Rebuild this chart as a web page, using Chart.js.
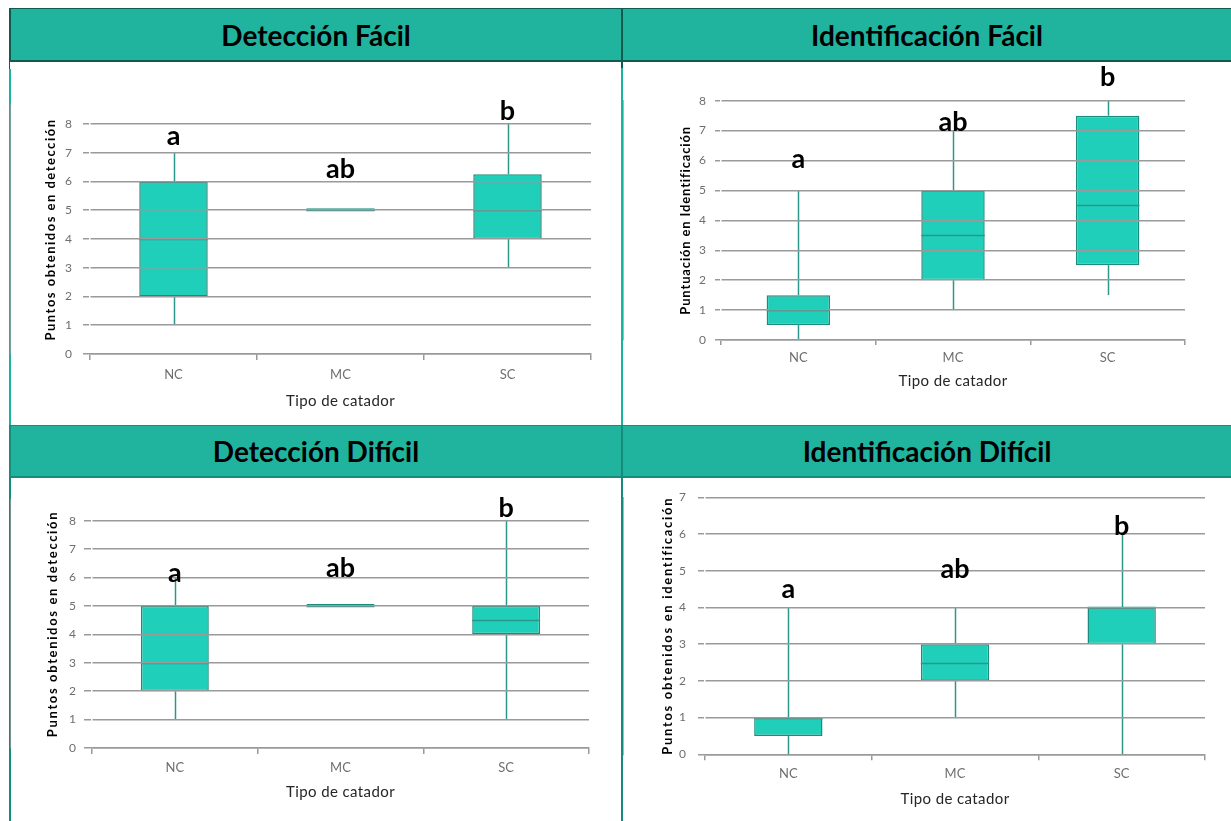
<!DOCTYPE html>
<html>
<head>
<meta charset="utf-8">
<title>Puntuaciones por tipo de catador</title>
<script src="https://cdn.jsdelivr.net/npm/chart.js@4.4.0/dist/chart.umd.min.js"></script>
<style>
  html, body { margin: 0; padding: 0; background: #ffffff; }
  body { width: 1231px; height: 821px; position: relative; overflow: hidden; font-family: Lato, "Open Sans", sans-serif; }
  .hdr { position: absolute; box-sizing: border-box; background: #20b49f; color: #000;
         display: flex; align-items: center; justify-content: center;
         font: 700 28px Lato, "Open Sans", sans-serif; }
  .rule { position: absolute; }
  canvas { position: absolute; }
</style>
</head>
<body>
  <!-- header bands -->
  <div class="hdr" style="left:9px;top:8px;width:612px;height:54px;border-top:1px solid #0f5b4e;border-bottom:2px solid #0f5b4e;border-left:2px solid #0f5b4e;">Detección Fácil</div>
  <div class="hdr" style="left:623px;top:8px;width:608px;height:54px;border-top:1px solid #0f5b4e;border-bottom:2px solid #0f5b4e;">Identificación Fácil</div>
  <div class="hdr" style="left:9px;top:425px;width:612px;height:53px;border-top:1px solid #168c7b;border-bottom:2px solid #168c7b;border-left:2px solid #168c7b;">Detección Difícil</div>
  <div class="hdr" style="left:623px;top:425px;width:608px;height:53px;border-top:1px solid #168c7b;border-bottom:2px solid #168c7b;">Identificación Difícil</div>

  <!-- panel frame lines -->
  <div class="rule" style="left:621px;top:8px;width:2px;height:60px;background:#0f5b4e;"></div>
  <div class="rule" style="left:621px;top:68px;width:2px;height:357px;background:#1ab39d;"></div>
  <div class="rule" style="left:621px;top:425px;width:2px;height:396px;background:#158b7a;"></div>
  <div class="rule" style="left:9px;top:62px;width:1px;height:7px;background:#0f5b4e;"></div>
  <div class="rule" style="left:9px;top:69px;width:2px;height:356px;background:#1ab39d;"></div>
  <div class="rule" style="left:9px;top:478px;width:2px;height:343px;background:#158b7a;"></div>

  <canvas id="detFacil" width="611" height="363" style="left:10px;top:62px;"></canvas>
  <canvas id="idFacil" width="608" height="363" style="left:623px;top:62px;"></canvas>
  <canvas id="detDificil" width="611" height="343" style="left:10px;top:478px;"></canvas>
  <canvas id="idDificil" width="608" height="343" style="left:623px;top:478px;"></canvas>

<script>
// ---- data ----------------------------------------------------------------
const categories = ['NC', 'MC', 'SC'];

// Detección Fácil
const detFacilMin    = [1, 5, 3];
const detFacilQ1     = [2, 5, 4];
const detFacilMedian = [4, 5, 5];
const detFacilQ3     = [6, 5.07, 6.25];
const detFacilMax    = [7, 5.07, 8];
const detFacilGroups = ['a', 'ab', 'b'];

// Identificación Fácil
const idFacilMin    = [0, 1, 1.5];
const idFacilQ1     = [0.5, 2, 2.5];
const idFacilMedian = [1, 3.5, 4.5];
const idFacilQ3     = [1.5, 5, 7.5];
const idFacilMax    = [5, 7, 8];
const idFacilGroups = ['a', 'ab', 'b'];

// Detección Difícil
const detDificilMin    = [1, 5, 1];
const detDificilQ1     = [2, 5, 4];
const detDificilMedian = [3, 5, 4.5];
const detDificilQ3     = [5, 5.07, 5];
const detDificilMax    = [6, 5.07, 8];
const detDificilGroups = ['a', 'ab', 'b'];

// Identificación Difícil
const idDificilMin    = [0, 1, 0];
const idDificilQ1     = [0.5, 2, 3];
const idDificilMedian = [1, 2.5, 4];
const idDificilQ3     = [1, 3, 4];
const idDificilMax    = [4, 4, 6];
const idDificilGroups = ['a', 'ab', 'b'];

const xAxisTitle = 'Tipo de catador';

// ---- styling -------------------------------------------------------------
const BOX_FILL = '#1fcfb9';
const BOX_EDGE = '#1b8c7d';
const WHISKER = '#2a978a';
const GRID = '#9a9a9a';
const TICK_TEXT = '#6e6e6e';
const FONT = 'Lato, "Open Sans", sans-serif';

// whiskers, medians and group letters, drawn with the chart's own scales
function boxDecorations(stats) {
  return {
    id: 'boxDecorations',
    afterLayout(chart) {
      // spaced-out lettering for the axis titles
      [['y', stats.yTitleSpacing], ['x', stats.xTitleSpacing]].forEach(([key, sp]) => {
        const s = chart.scales[key];
        if (!s || s._spacedTitle) return;
        const orig = s.drawTitle;
        s.drawTitle = function () {
          const c = this.ctx;
          c.save();
          c.letterSpacing = sp + 'px';
          orig.call(this);
          c.restore();
        };
        s._spacedTitle = true;
      });
    },
    afterDatasetsDraw(chart) {
      const { ctx, scales: { y } } = chart;
      const bars = chart.getDatasetMeta(0).data;
      ctx.save();
      ctx.strokeStyle = WHISKER;
      ctx.lineWidth = 1.5;
      bars.forEach((bar, i) => {
        const x = Math.round(bar.x) + 0.5;
        const half = bar.width / 2;
        const seg = (x1, y1, x2, y2) => { ctx.beginPath(); ctx.moveTo(x1, y1); ctx.lineTo(x2, y2); ctx.stroke(); };
        if (stats.max[i] > stats.q3[i]) seg(x, y.getPixelForValue(stats.q3[i]), x, y.getPixelForValue(stats.max[i]));
        if (stats.min[i] < stats.q1[i]) seg(x, y.getPixelForValue(stats.q1[i]), x, y.getPixelForValue(stats.min[i]));
        const ym = Math.round(y.getPixelForValue(stats.median[i])) + 0.5;
        seg(bar.x - half, ym, bar.x + half, ym);
      });
      ctx.restore();
    },
    afterDraw(chart) {
      const { ctx, scales: { y } } = chart;
      const bars = chart.getDatasetMeta(0).data;
      ctx.save();
      ctx.fillStyle = '#000';
      ctx.font = '700 27px ' + FONT;
      ctx.textAlign = 'center';
      ctx.textBaseline = 'alphabetic';
      bars.forEach((bar, i) => {
        ctx.fillText(stats.groups[i], bar.x, y.getPixelForValue(stats.letterAt[i]));
      });
      ctx.restore();
    }
  };
}

function buildPanel(p) {
  const canvas = document.getElementById(p.id);
  const W = canvas.width, H = canvas.height;
  const yTitleFont = { family: FONT, size: 13, weight: '700' };
  const xTitleFont = { family: FONT, size: 15 };
  const xTickFont = { family: FONT, size: 13 };
  const yTickFont = { family: FONT, size: 12 };
  const xAxisHeight = H - p.area.bottom;

  return new Chart(canvas, {
    type: 'bar',
    data: {
      labels: categories,
      datasets: [{
        data: categories.map((_, i) => [p.q1[i], p.q3[i]]),
        backgroundColor: BOX_FILL,
        borderColor: BOX_EDGE,
        borderWidth: 1.5,
        borderSkipped: false,
        barPercentage: 0.41,
        categoryPercentage: 1
      }]
    },
    options: {
      responsive: false,
      devicePixelRatio: 1,
      animation: false,
      events: [],
      layout: { padding: { left: 0, top: p.area.top, right: W - p.area.right, bottom: 0 } },
      plugins: { legend: { display: false }, tooltip: { enabled: false }, title: { display: false } },
      scales: {
        x: {
          offset: true,
          grid: { display: true, drawOnChartArea: false, drawTicks: true, tickLength: p.xTickLen, color: GRID, lineWidth: 1.5, offset: true },
          border: { display: true, color: GRID, width: 1.5 },
          ticks: { color: TICK_TEXT, font: xTickFont, padding: p.xLabelY - p.area.bottom - p.xTickLen - 7.8 },
          title: { display: true, text: xAxisTitle, color: '#262626', font: xTitleFont,
                   padding: { top: 0, bottom: (H - p.xTitleY) - 9 } },
          afterFit(scale) { scale.height = xAxisHeight; }
        },
        y: {
          min: 0,
          max: p.yMax,
          grid: { color: GRID, lineWidth: 1.5, tickLength: p.yTickLen, z: 1 },
          border: { display: true, color: GRID, width: 1.5 },
          ticks: { stepSize: 1, includeBounds: false, color: TICK_TEXT, font: yTickFont, padding: p.yTickPad },
          afterBuildTicks(scale) { scale.ticks = scale.ticks.filter(t => Number.isInteger(t.value)); },
          title: { display: true, text: p.yTitle, color: '#000', font: yTitleFont,
                   padding: { top: p.yTitleX - 7.8, bottom: 0 } },
          afterFit(scale) { scale.width = p.area.left; }
        }
      }
    },
    plugins: [boxDecorations(p)]
  });
}

buildPanel({
  id: 'detFacil', yTitle: 'Puntos obtenidos en detección', yMax: 8.66,
  min: detFacilMin, q1: detFacilQ1, median: detFacilMedian, q3: detFacilQ3, max: detFacilMax,
  groups: detFacilGroups, letterAt: [7.27, 6.12, 8.14],
  area: { left: 80, right: 581, top: 43, bottom: 292 },
  yTitleX: 41, yTitleSpacing: 1.5, xTitleSpacing: 0.4,
  yTickLen: 7, yTickPad: 11, xTickLen: 6, xLabelY: 313, xTitleY: 339
});

buildPanel({
  id: 'idFacil', yTitle: 'Puntuación en Identificación', yMax: 8,
  min: idFacilMin, q1: idFacilQ1, median: idFacilMedian, q3: idFacilQ3, max: idFacilMax,
  groups: idFacilGroups, letterAt: [5.75, 7.0, 8.5],
  area: { left: 98, right: 562, top: 38.7, bottom: 278 },
  yTitleX: 63, yTitleSpacing: 0.85, xTitleSpacing: 0.4,
  yTickLen: 6, yTickPad: 9, xTickLen: 5, xLabelY: 296, xTitleY: 319
});

buildPanel({
  id: 'detDificil', yTitle: 'Puntos obtenidos en detección', yMax: 8.73,
  min: detDificilMin, q1: detDificilQ1, median: detDificilMedian, q3: detDificilQ3, max: detDificilMax,
  groups: detDificilGroups, letterAt: [5.86, 6.01, 8.14],
  area: { left: 82, right: 579, top: 22, bottom: 270 },
  yTitleX: 43, yTitleSpacing: 1.65, xTitleSpacing: 0.4,
  yTickLen: 8, yTickPad: 8, xTickLen: 6, xLabelY: 290, xTitleY: 314
});

buildPanel({
  id: 'idDificil', yTitle: 'Puntos obtenidos en identificación', yMax: 7,
  min: idDificilMin, q1: idDificilQ1, median: idDificilMedian, q3: idDificilQ3, max: idDificilMax,
  groups: idDificilGroups, letterAt: [4.25, 4.8, 5.98],
  area: { left: 82, right: 582, top: 19.3, bottom: 276.3 },
  yTitleX: 44.5, yTitleSpacing: 1.7, xTitleSpacing: 0.4,
  yTickLen: 7, yTickPad: 12, xTickLen: 6, xLabelY: 296, xTitleY: 321
});
</script>
</body>
</html>
